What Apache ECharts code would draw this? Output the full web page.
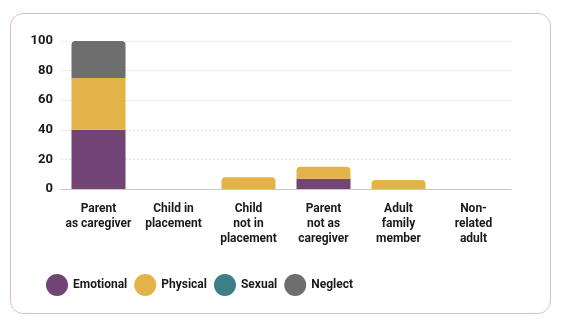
<!DOCTYPE html>
<html>
<head>
<meta charset="utf-8">
<script src="https://cdn.jsdelivr.net/npm/echarts@6/dist/echarts.min.js"></script>
<style>
  html, body { margin: 0; padding: 0; background: #ffffff; }
  #frame {
    position: absolute; left: 10px; top: 13px; width: 541px; height: 301px;
    border: 1px solid #e3bccb; border-radius: 13px; box-sizing: border-box;
  }
  #chart { position: absolute; left: 0; top: 0; width: 572px; height: 322px; }
</style>
</head>
<body>
<div id="frame"></div>
<div id="chart"></div>
<script>
// Categories of perpetrator relationship
const categories = [
  'Parent\nas caregiver',
  'Child in\nplacement',
  'Child\nnot in\nplacement',
  'Parent\nnot as\ncaregiver',
  'Adult\nfamily\nmember',
  'Non-\nrelated\nadult'
];

// Counts by maltreatment type
const emotional = [40, 0, 0, 7, 0, 0];
const physical  = [35, 0, 8, 8, 6, 0];
const sexual    = [0, 0, 0, 0, 0, 0];
const neglect   = [25, 0, 0, 0, 0, 0];

const yTicks = [0, 20, 40, 60, 80, 100];

const seriesDefs = [
  { name: 'Emotional', values: emotional, color: '#734476' },
  { name: 'Physical',  values: physical,  color: '#e3b349' },
  { name: 'Sexual',    values: sexual,    color: '#3d7f87' },
  { name: 'Neglect',   values: neglect,   color: '#6e6e6e' }
];

// Round the top corners of whichever segment sits on top of each stack
const topIndex = categories.map((_, ci) => {
  let top = -1;
  seriesDefs.forEach((s, si) => { if (s.values[ci] > 0) top = si; });
  return top;
});

const series = seriesDefs.map((s, si) => ({
  name: s.name,
  type: 'bar',
  stack: 'total',
  barWidth: 54,
  itemStyle: { color: s.color },
  data: s.values.map((v, ci) => ({
    value: v,
    itemStyle: { borderRadius: topIndex[ci] === si ? [4, 4, 0, 0] : 0 }
  }))
}));

const chart = echarts.init(document.getElementById('chart'), null, { renderer: 'canvas' });
chart.setOption({
  animation: false,
  textStyle: { fontFamily: 'Roboto' },
  grid: { left: 61, right: 61, top: 41, bottom: 133 },
  legend: {
    left: 46, top: 274, padding: 0,
    icon: 'circle',
    itemWidth: 22, itemHeight: 22, itemGap: 7,
    textStyle: { fontFamily: 'Roboto', fontSize: 12, fontWeight: 'bold', color: '#1a1a1a' },
    data: seriesDefs.map(s => s.name)
  },
  xAxis: {
    type: 'category',
    data: categories,
    axisTick: { show: false },
    axisLine: { lineStyle: { color: '#c8c8c8', width: 1 } },
    axisLabel: {
      interval: 0, margin: 12,
      fontFamily: 'Roboto', fontSize: 12, fontWeight: 'bold', color: '#1a1a1a',
      lineHeight: 15
    }
  },
  yAxis: {
    type: 'value',
    min: yTicks[0], max: yTicks[yTicks.length - 1], interval: 20,
    axisLine: { show: false },
    axisTick: { show: false },
    splitLine: { lineStyle: { color: '#e2e2e2', type: [2, 2] } },
    axisLabel: {
      margin: 8,
      fontFamily: 'Roboto', fontSize: 13, fontWeight: 'bold', color: '#1a1a1a'
    }
  },
  series: series
});
</script>
</body>
</html>
